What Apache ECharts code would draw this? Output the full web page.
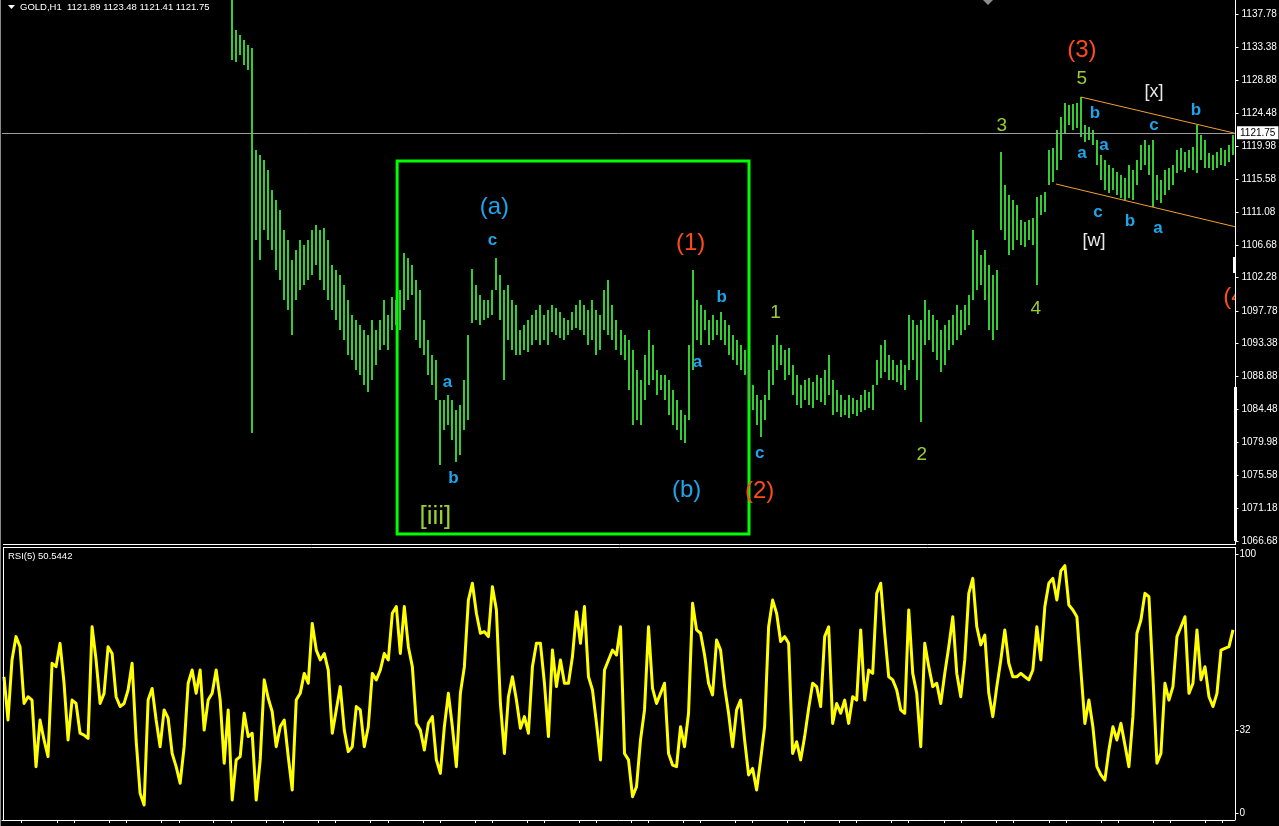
<!DOCTYPE html>
<html><head><meta charset="utf-8">
<script src="https://cdn.jsdelivr.net/npm/echarts@6/dist/echarts.min.js"></script>
<style>html,body{margin:0;padding:0;background:#000;}#c{width:1279px;height:826px;}</style>
</head><body><div id="c"></div>
<script>
// ---------------- DATA ----------------
const symbolLabel = 'GOLD,H1';
const lastQuote = ['1121.89', '1123.48', '1121.41', '1121.75'];
const rsiTitle = 'RSI(5) 50.5442';
const currentPrice = 1121.75;
const priceRange = [1066.28, 1139.67];
const priceTicks = [1066.68, 1071.18, 1075.58, 1079.98, 1084.48, 1088.88, 1093.38, 1097.78, 1102.28,
  1106.68, 1111.08, 1115.58, 1119.98, 1124.48, 1128.88, 1133.38, 1137.78];
const rsiTicks = [0, 32, 100];
const barCount = 308;
const firstBar = 57; // earlier bars lie above the visible price range
const barHigh = [
  1141.0, 1135.62, 1134.95, 1134.27, 1133.6, 1133.2, 1119.43, 1118.76, 1118.08, 1116.73,
  1114.04, 1112.69, 1111.34, 1108.64, 1107.29, 1104.6, 1105.94, 1107.29, 1106.62, 1107.29,
  1108.64, 1109.32, 1108.64, 1108.91, 1107.29, 1103.92, 1103.25, 1102.57, 1101.22, 1099.19,
  1097.17, 1096.5, 1095.83, 1095.15, 1094.48, 1096.5, 1095.15, 1096.5, 1099.19, 1097.17,
  1099.6, 1099.19, 1100.55, 1105.54, 1104.87, 1103.92, 1101.9, 1100.55, 1096.5, 1093.8,
  1091.78, 1091.1, 1085.7, 1085.7, 1086.38, 1085.7, 1084.35, 1085.03, 1088.41, 1094.48,
  1103.38, 1101.22, 1099.87, 1099.19, 1099.19, 1100.55, 1104.87, 1102.57, 1100.55, 1101.22,
  1099.19, 1098.52, 1095.15, 1095.83, 1096.5, 1097.17, 1097.85, 1098.52, 1097.17, 1097.85,
  1098.52, 1098.12, 1097.58, 1096.77, 1096.5, 1097.58, 1098.52, 1099.19, 1098.52, 1097.85,
  1099.19, 1097.85, 1097.17, 1100.55, 1101.9, 1098.52, 1096.5, 1095.15, 1094.48, 1093.8,
  1092.45, 1089.75, 1088.41, 1091.78, 1095.15, 1093.13, 1089.75, 1089.08, 1089.08, 1088.41,
  1087.06, 1085.7, 1084.35, 1083.69, 1093.13, 1103.25, 1099.19, 1098.52, 1097.85, 1096.5,
  1097.17, 1096.5, 1097.58, 1096.5, 1095.83, 1094.48, 1093.8, 1093.13, 1092.45, 1091.1,
  1087.73, 1086.38, 1085.7, 1086.38, 1089.75, 1093.13, 1094.48, 1093.13, 1092.45, 1092.72,
  1090.43, 1089.08, 1087.73, 1088.41, 1088.68, 1088.14, 1089.08, 1088.68, 1089.75, 1091.78,
  1088.41, 1087.06, 1086.38, 1085.7, 1086.38, 1085.97, 1085.7, 1086.38, 1087.06, 1086.79,
  1087.73, 1091.1, 1093.13, 1093.8, 1091.78, 1091.1, 1090.43, 1091.1, 1090.43, 1097.17,
  1096.5, 1095.83, 1096.5, 1099.19, 1097.85, 1097.17, 1096.5, 1095.15, 1095.83, 1096.5,
  1097.17, 1098.52, 1097.85, 1098.52, 1099.87, 1108.64, 1107.29, 1105.27, 1105.94, 1103.92,
  1102.57, 1103.25, 1119.16, 1114.71, 1113.36, 1112.69, 1112.01, 1109.99, 1109.72, 1109.99,
  1110.26, 1113.09, 1113.36, 1113.77, 1119.43, 1119.7, 1122.13, 1123.89, 1125.78, 1125.51,
  1125.64, 1125.78, 1126.59, 1122.81, 1122.54, 1122.13, 1120.78, 1118.76, 1118.08, 1117.41,
  1117.0, 1116.47, 1116.06, 1115.66, 1117.41, 1116.73, 1118.08, 1120.11, 1120.78, 1120.11,
  1120.78, 1116.06, 1115.39, 1116.73, 1117.0, 1117.41, 1119.43, 1119.7, 1119.16, 1119.43,
  1119.84, 1122.81, 1121.46, 1120.78, 1119.03, 1118.76, 1119.16, 1119.7, 1119.43, 1120.11,
  1121.46
];
const barLow = [
  1131.57, 1131.3, 1132.25, 1130.9, 1130.23, 1081.26, 1107.29, 1104.6, 1108.64, 1107.29,
  1105.94, 1103.25, 1101.9, 1099.19, 1097.85, 1094.48, 1099.19, 1100.55, 1101.22, 1101.9,
  1102.57, 1103.92, 1101.9, 1100.55, 1099.19, 1097.85, 1096.5, 1095.15, 1093.8, 1091.78,
  1091.1, 1089.75, 1089.08, 1087.73, 1086.79, 1088.41, 1090.43, 1092.45, 1093.13, 1092.45,
  1095.15, 1095.83, 1095.15, 1097.85, 1099.19, 1099.87, 1093.8, 1092.72, 1091.78, 1089.08,
  1087.73, 1085.7, 1076.94, 1081.67, 1082.34, 1080.31, 1077.34, 1078.28, 1081.67, 1083.01,
  1096.1, 1096.5, 1095.83, 1096.5, 1096.77, 1097.17, 1100.55, 1096.5, 1088.41, 1093.8,
  1092.45, 1091.78, 1091.78, 1092.45, 1092.18, 1093.13, 1093.8, 1093.13, 1093.8, 1093.13,
  1094.88, 1094.48, 1094.07, 1093.8, 1094.48, 1095.15, 1095.42, 1095.15, 1094.48, 1093.13,
  1093.8, 1091.78, 1092.45, 1095.15, 1094.48, 1093.8, 1092.45, 1091.78, 1091.1, 1087.06,
  1082.34, 1083.01, 1082.34, 1085.7, 1087.73, 1088.41, 1086.38, 1087.06, 1085.7, 1083.69,
  1082.34, 1081.67, 1080.31, 1079.9, 1083.01, 1089.75, 1093.8, 1093.13, 1095.15, 1093.13,
  1093.8, 1094.48, 1093.8, 1093.13, 1091.78, 1091.1, 1090.43, 1089.75, 1089.08, 1085.7,
  1084.35, 1082.34, 1080.72, 1083.01, 1085.7, 1087.73, 1089.75, 1090.43, 1088.41, 1089.08,
  1086.38, 1085.03, 1084.62, 1085.7, 1085.03, 1084.62, 1085.7, 1085.43, 1085.03, 1086.38,
  1083.69, 1084.08, 1083.42, 1083.69, 1083.28, 1083.82, 1083.55, 1084.08, 1084.35, 1084.62,
  1084.35, 1087.73, 1088.68, 1089.48, 1088.41, 1088.41, 1088.14, 1087.73, 1087.06, 1089.75,
  1091.1, 1088.41, 1082.74, 1093.13, 1093.8, 1092.18, 1091.1, 1089.48, 1090.43, 1092.45,
  1093.13, 1093.8, 1094.48, 1095.15, 1095.83, 1099.19, 1100.55, 1101.22, 1099.19, 1095.15,
  1093.8, 1095.15, 1108.64, 1107.29, 1105.27, 1105.94, 1107.29, 1106.62, 1106.35, 1107.29,
  1106.62, 1101.22, 1110.67, 1111.07, 1114.71, 1115.12, 1116.74, 1118.08, 1121.73, 1122.81,
  1122.13, 1122.4, 1121.19, 1120.51, 1120.78, 1120.11, 1117.41, 1115.39, 1114.04, 1113.63,
  1114.04, 1113.36, 1112.96, 1112.69, 1112.96, 1112.69, 1114.71, 1116.73, 1117.41, 1116.06,
  1111.75, 1112.69, 1112.28, 1113.36, 1114.04, 1114.71, 1116.33, 1116.73, 1116.47, 1117.0,
  1116.73, 1116.33, 1118.08, 1117.0, 1117.0, 1116.73, 1117.0, 1117.41, 1117.27, 1117.81,
  1118.76
];
const rsi = [
  52.6, 35.9, 59.1, 68.1, 64.2, 42.3, 44.9, 43.6, 17.9, 35.9,
  28.2, 21.8, 57.8, 56.5, 65.5, 50.1, 28.2, 43.6, 42.3, 30.8,
  30.1, 28.8, 71.9, 59.1, 42.3, 46.2, 64.2, 61.6, 44.9, 41.1,
  42.3, 47.5, 57.8, 28.2, 7.6, 3.1, 43.6, 48.1, 35.9, 25.6,
  39.8, 36.6, 23.0, 17.9, 11.5, 25.6, 50.1, 55.2, 46.2, 55.2,
  32.0, 43.6, 46.2, 55.2, 43.6, 19.2, 39.8, 5.0, 20.5, 21.8,
  38.5, 29.5, 30.8, 5.0, 20.5, 51.4, 44.3, 39.1, 25.6, 33.3,
  35.9, 21.8, 8.9, 43.6, 46.2, 53.9, 50.1, 73.2, 62.9, 59.1,
  61.6, 55.2, 30.8, 39.8, 48.8, 32.0, 23.7, 25.6, 41.1, 39.8,
  25.6, 33.3, 53.9, 51.4, 55.2, 61.6, 59.1, 77.1, 79.7, 61.6,
  79.7, 64.2, 56.5, 34.6, 32.0, 24.3, 34.6, 37.2, 20.5, 15.3,
  33.3, 46.2, 33.3, 17.9, 46.2, 56.5, 82.2, 88.7, 77.1, 69.4,
  70.0, 68.1, 87.4, 78.4, 42.3, 23.0, 44.9, 52.6, 43.6, 32.7,
  37.2, 30.8, 56.5, 65.5, 65.5, 50.1, 29.5, 62.9, 48.8, 59.1,
  50.1, 50.1, 60.4, 77.7, 65.5, 79.7, 52.6, 47.5, 34.6, 20.5,
  55.2, 59.1, 62.9, 61.0, 71.9, 23.0, 20.5, 6.3, 10.2, 28.2,
  39.8, 71.9, 48.1, 42.3, 46.2, 50.1, 23.0, 18.5, 17.9, 33.3,
  25.6, 38.5, 81.0, 70.7, 69.4, 61.0, 50.1, 45.6, 66.8, 62.9,
  48.8, 38.5, 25.6, 39.8, 43.6, 28.2, 14.7, 17.2, 8.9, 20.5,
  33.3, 71.9, 82.2, 77.1, 66.2, 68.1, 65.5, 23.0, 27.5, 20.5,
  29.5, 40.4, 50.1, 48.8, 41.1, 68.1, 71.9, 34.6, 42.3, 38.5,
  43.6, 34.6, 44.9, 43.6, 70.7, 43.6, 55.2, 53.9, 84.8, 88.7,
  69.4, 52.6, 51.4, 47.5, 39.8, 38.5, 78.4, 53.9, 46.2, 25.6,
  65.5, 56.5, 48.8, 50.1, 42.3, 53.9, 64.2, 75.8, 53.9, 44.9,
  59.1, 84.8, 90.6, 71.9, 64.9, 68.7, 46.2, 37.2, 48.8, 59.1,
  70.7, 57.8, 52.6, 52.6, 53.9, 52.6, 51.4, 55.2, 71.9, 59.1,
  79.7, 88.7, 90.6, 82.2, 93.5, 95.5, 80.3, 78.4, 75.8, 55.2,
  34.6, 43.6, 33.3, 17.9, 14.7, 12.7, 24.3, 33.3, 28.2, 34.6,
  26.3, 17.9, 37.2, 69.4, 74.5, 84.8, 83.5, 52.6, 19.2, 23.0,
  50.1, 43.6, 48.8, 68.1, 71.9, 75.8, 46.2, 50.1, 70.7, 51.4,
  56.5, 44.9, 41.1, 46.2, 62.9, 63.6, 64.2, 70.7
];
// time-axis tick marks, in bar index units
const timeTicks = [4.43, 13.18, 17.5, 26.25, 30.5, 39.25, 43.68, 52.25, 56.68, 65.43, 69.75, 78.5, 82.75,
  91.5, 95.93, 104.68, 109, 117.68, 122, 130.75, 135, 143.75, 148, 156.75, 161, 169.75, 174, 182.75, 187,
  195.75, 200, 208.75, 213, 221.75, 226, 234.75, 239, 247.75, 252, 261, 265.25, 274, 278.25, 287, 291.25,
  300, 304.25];
// wave labels: [bar index, price, text, kind]
const annotations = [
  [122.5, 1111.74, '(a)', 'interm'],
  [122.0, 1107.29, 'c', 'abc'],
  [110.75, 1088.14, 'a', 'abc'],
  [112.25, 1075.2, 'b', 'abc'],
  [107.75, 1069.9, '[iii]', 'minor'],
  [171.5, 1106.89, '(1)', 'primary'],
  [179.25, 1099.6, 'b', 'abc'],
  [173.25, 1090.84, 'a', 'abc'],
  [170.5, 1073.57, '(b)', 'interm'],
  [188.75, 1078.55, 'c', 'abc'],
  [188.75, 1073.43, '(2)', 'primary'],
  [192.75, 1097.45, '1', 'wave'],
  [229.25, 1078.28, '2', 'wave'],
  [249.25, 1122.67, '3', 'wave'],
  [257.75, 1097.99, '4', 'wave'],
  [269.25, 1129.01, '5', 'wave'],
  [269.25, 1132.92, '(3)', 'primary'],
  [272.5, 1124.43, 'b', 'abc'],
  [269.25, 1119.03, 'a', 'abc'],
  [274.75, 1120.11, 'a', 'abc'],
  [273.25, 1111.07, 'c', 'abc'],
  [272.25, 1107.16, '[w]', 'bracket'],
  [281.25, 1109.86, 'b', 'abc'],
  [288.25, 1108.91, 'a', 'abc'],
  [287.25, 1122.81, 'c', 'abc'],
  [287.25, 1127.26, '[x]', 'bracket'],
  [297.75, 1124.83, 'b', 'abc'],
  [308.25, 1099.6, '(4)', 'primary']
];
const channelUpper = [[269, 1126.58], [307.75, 1121.66]];
const channelLower = [[262.75, 1114.85], [307.75, 1109.05]];
const boxCorners = [[98.2, 1117.95], [186.1, 1067.63]];

// ---------------- STYLE ----------------
const FONT = '"Liberation Sans", Arial, sans-serif';
const labelStyles = {
  primary: { color: '#ff4a1c', font: '24px ' + FONT },
  interm:  { color: '#1ea4ea', font: '24px ' + FONT },
  abc:     { color: '#1ea4ea', font: 'bold 17px ' + FONT },
  wave:    { color: '#9acd32', font: '19px ' + FONT },
  minor:   { color: '#9acd32', font: '26px ' + FONT },
  bracket: { color: '#e8e8e8', font: '18px ' + FONT }
};

const barData = barHigh.map((h, k) => [firstBar + k, barLow[k], h]);
const rsiData = rsi.map((v, i) => [i, v]);
const xMin = -0.5, xMax = barCount - 0.5;

// right-hand scale: short outward ticks plus labels, placed through the axes
function scaleSeries(xIdx, yIdx, values, fmt, labelGap) {
  return {
    type: 'custom', xAxisIndex: xIdx, yAxisIndex: yIdx, clip: false, silent: true, z: 10,
    encode: { y: 0 },
    data: values.map(v => [v]),
    renderItem: (params, api) => {
      const v = api.value(0);
      const p = api.coord([xMax, v]);
      const y = Math.round(p[1]) + 0.5;
      const x = Math.round(p[0]) + 0.5;
      return { type: 'group', children: [
        { type: 'line', shape: { x1: x, y1: y, x2: x + 3, y2: y }, style: { stroke: '#ffffff', lineWidth: 1 } },
        { type: 'text', x: x + labelGap, y: y, style: { text: fmt(v), fill: '#ffffff',
          font: '10px ' + FONT, align: 'left', verticalAlign: 'middle' } }
      ] };
    }
  };
}

const hiddenAxis = { axisLine: { show: false, onZero: false }, axisTick: { show: false },
  axisLabel: { show: false }, splitLine: { show: false } };

const chart = echarts.init(document.getElementById('c'), null, { renderer: 'canvas' });
chart.setOption({
  backgroundColor: '#000',
  animation: false,
  grid: [
    { left: 2, right: 44, top: 0, height: 544, outerBoundsMode: 'none', containLabel: false },
    { left: 2, right: 44, top: 554, height: 259, outerBoundsMode: 'none', containLabel: false }
  ],
  xAxis: [
    Object.assign({ type: 'value', gridIndex: 0, min: xMin, max: xMax }, hiddenAxis),
    { type: 'value', gridIndex: 1, min: xMin, max: xMax, position: 'bottom', offset: 7,
      axisLine: { show: true, onZero: false, lineStyle: { color: '#ffffff', width: 1 } },
      axisTick: { show: true, customValues: timeTicks, length: 3, lineStyle: { color: '#ffffff' } },
      axisLabel: { show: false }, splitLine: { show: false } }
  ],
  yAxis: [
    Object.assign({ type: 'value', gridIndex: 0, position: 'right', min: priceRange[0], max: priceRange[1] }, hiddenAxis),
    Object.assign({ type: 'value', gridIndex: 1, position: 'right', min: 0, max: 100 }, hiddenAxis)
  ],
  series: [
    {
      type: 'custom', name: 'bars', xAxisIndex: 0, yAxisIndex: 0, clip: true, silent: true,
      encode: { x: 0, y: [1, 2] },
      data: barData,
      renderItem: (params, api) => {
        const lo = api.coord([api.value(0), api.value(1)]);
        const hi = api.coord([api.value(0), api.value(2)]);
        const x = Math.round(lo[0]);
        return { type: 'line', shape: { x1: x, y1: lo[1], x2: x, y2: Math.min(hi[1], lo[1] - 1) },
          style: { stroke: '#33cc33', lineWidth: 2 } };
      }
    },
    {
      type: 'line', name: 'channelUpper', xAxisIndex: 0, yAxisIndex: 0, data: channelUpper,
      symbol: 'none', silent: true, clip: true,
      lineStyle: { color: '#f0a032', width: 1 },
      markLine: {
        silent: true, symbol: ['none', 'none'],
        data: [{ yAxis: currentPrice }],
        lineStyle: { color: '#9c9c9c', width: 1, type: 'solid' },
        label: { show: true, position: 'end', distance: 2, formatter: currentPrice.toFixed(2),
          color: '#000', backgroundColor: '#fff', padding: [2, 3, 1, 3], fontSize: 10, fontFamily: FONT },
        emphasis: { disabled: true }
      },
      markArea: {
        silent: true,
        itemStyle: { color: 'rgba(0,0,0,0)', borderColor: '#00ff00', borderWidth: 3 },
        data: [[{ coord: boxCorners[0] }, { coord: boxCorners[1] }]],
        emphasis: { disabled: true }
      }
    },
    {
      type: 'line', name: 'channelLower', xAxisIndex: 0, yAxisIndex: 0, data: channelLower,
      symbol: 'none', silent: true, clip: true,
      lineStyle: { color: '#f0a032', width: 1 }
    },
    {
      type: 'custom', name: 'labels', xAxisIndex: 0, yAxisIndex: 0, clip: true, silent: true,
      encode: { x: 0, y: 1 },
      data: annotations.map(a => [a[0], a[1]]),
      z: 5,
      renderItem: (params, api) => {
        const a = annotations[params.dataIndex];
        const p = api.coord([a[0], a[1]]);
        const st = labelStyles[a[3]];
        return { type: 'text', x: p[0], y: p[1],
          style: { text: a[2], fill: st.color, font: st.font, align: 'center', verticalAlign: 'middle' } };
      }
    },
    {
      type: 'line', name: 'RSI', xAxisIndex: 1, yAxisIndex: 1, data: rsiData,
      symbol: 'none', silent: true, clip: true,
      lineStyle: { color: '#ffff00', width: 3, join: 'round' }
    },
    scaleSeries(0, 0, priceTicks, v => v.toFixed(2), 6),
    scaleSeries(1, 1, rsiTicks, v => String(v), 4)
  ],
  graphic: [
    { type: 'line', shape: { x1: 0.5, y1: 0, x2: 0.5, y2: 826 }, style: { stroke: '#8a8a8a', lineWidth: 1 }, z: 100 },
    { type: 'line', shape: { x1: 3.5, y1: 548, x2: 3.5, y2: 820 }, style: { stroke: '#ffffff', lineWidth: 1 }, z: 100 },
    { type: 'line', shape: { x1: 3, y1: 544.5, x2: 1236, y2: 544.5 }, style: { stroke: '#ffffff', lineWidth: 1 }, z: 100 },
    { type: 'line', shape: { x1: 3, y1: 547.5, x2: 1236, y2: 547.5 }, style: { stroke: '#ffffff', lineWidth: 1 }, z: 100 },
    { type: 'line', shape: { x1: 1235.5, y1: 0, x2: 1235.5, y2: 544 }, style: { stroke: '#ffffff', lineWidth: 1 }, z: 100 },
    { type: 'line', shape: { x1: 1235.5, y1: 548, x2: 1235.5, y2: 820 }, style: { stroke: '#ffffff', lineWidth: 1 }, z: 100 },
    { type: 'rect', shape: { x: 1233, y: 257, width: 3, height: 16 }, style: { fill: '#ffffff' }, z: 100 },
    { type: 'rect', shape: { x: 1234, y: 387, width: 3, height: 154 }, style: { fill: '#ffffff' }, z: 100 },
    { type: 'polygon', shape: { points: [[983, 0], [993, 0], [988, 5]] }, style: { fill: '#8c8c8c' }, z: 100 },
    { type: 'polygon', shape: { points: [[8, 5], [15, 5], [11.5, 9]] }, style: { fill: '#ffffff' }, z: 100 },
    { type: 'text', x: 20, y: 7, z: 100,
      style: { text: symbolLabel + '  ' + lastQuote.join(' '), fill: '#ffffff', font: '9.5px ' + FONT, verticalAlign: 'middle' } },
    { type: 'text', x: 8, y: 556, z: 100,
      style: { text: rsiTitle, fill: '#ffffff', font: '9.5px ' + FONT, verticalAlign: 'middle' } }
  ]
});
</script>
</body></html>
